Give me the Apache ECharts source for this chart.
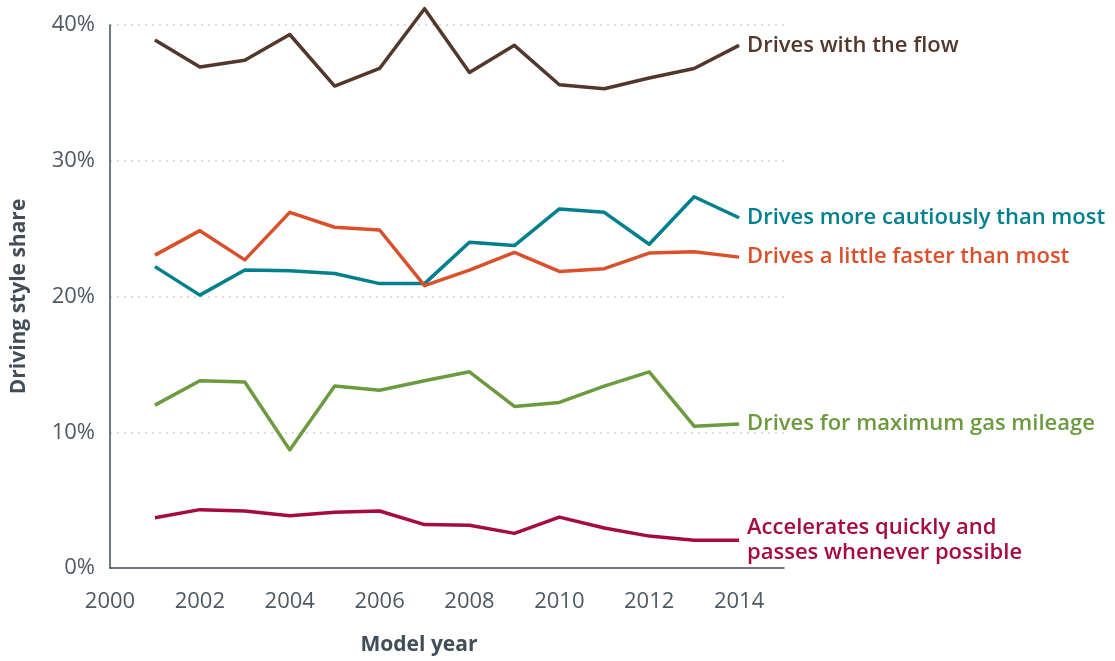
<!DOCTYPE html>
<html>
<head>
<meta charset="utf-8">
<script src="https://cdn.jsdelivr.net/npm/echarts@6/dist/echarts.min.js"></script>
<style>
  html, body { margin: 0; padding: 0; background: #fff; }
  #main { width: 1115px; height: 661px; }
</style>
</head>
<body>
<div id="main"></div>
<script>
// model years
var years = [2001, 2002, 2003, 2004, 2005, 2006, 2007, 2008, 2009, 2010, 2011, 2012, 2013, 2014];

// driving style shares (%)
var withFlow   = [38.9, 36.9, 37.4, 39.3, 35.5, 36.8, 41.2, 36.5, 38.5, 35.6, 35.3, 36.1, 36.8, 38.5];
var cautious   = [22.2, 20.1, 21.95, 21.9, 21.7, 20.95, 20.95, 24.0, 23.75, 26.45, 26.2, 23.85, 27.35, 25.8];
var faster     = [23.05, 24.85, 22.7, 26.2, 25.1, 24.9, 20.8, 21.95, 23.25, 21.85, 22.05, 23.2, 23.3, 22.9];
var mileage    = [12.0, 13.8, 13.7, 8.7, 13.4, 13.1, 13.8, 14.45, 11.9, 12.2, 13.4, 14.45, 10.45, 10.6];
var accelerate = [3.7, 4.3, 4.2, 3.85, 4.1, 4.2, 3.2, 3.15, 2.55, 3.75, 2.95, 2.35, 2.05, 2.05];

var seriesNames = [
    'Drives with the flow',
    'Drives more cautiously than most',
    'Drives a little faster than most',
    'Drives for maximum gas mileage',
    'Accelerates quickly and\npasses whenever possible'
];
var seriesData = [withFlow, cautious, faster, mileage, accelerate];
var seriesColors = ['#54372b', '#00808f', '#d9502b', '#6b9a3f', '#a50b3e'];

var xTicks = { min: 2000, max: 2015, interval: 2 };
var yTicks = { min: 0, max: 40, interval: 10 };

var fontName = '"Open Sans", "DejaVu Sans", sans-serif';
var axisGray = '#414d59';
var labelGray = '#4d5964';

function pairs(arr) {
    var out = [];
    for (var i = 0; i < years.length; i++) {
        out.push([years[i], arr[i]]);
    }
    return out;
}

var series = [];
for (var i = 0; i < seriesData.length; i++) {
    series.push({
        name: seriesNames[i],
        type: 'line',
        data: pairs(seriesData[i]),
        symbol: 'none',
        clip: false,
        lineStyle: { color: seriesColors[i], width: 3.5, join: 'round' },
        itemStyle: { color: seriesColors[i] },
        endLabel: {
            show: true,
            distance: 8,
            formatter: function(p) { return p.seriesName; },
            color: seriesColors[i],
            fontFamily: fontName,
            fontSize: 22,
            fontWeight: 600,
            lineHeight: 25
        }
    });
}

var myChart = echarts.init(document.getElementById('main'));
var option = {
    animation: false,
    backgroundColor: '#ffffff',
    grid: {
        left: 110,
        right: 331,
        top: 25,
        bottom: 85
    },
    xAxis: {
        type: 'value',
        min: xTicks.min,
        max: xTicks.max,
        interval: xTicks.interval,
        name: 'Model year',
        nameLocation: 'middle',
        nameGap: 67,
        nameTextStyle: {
            color: axisGray,
            fontFamily: fontName,
            fontSize: 21,
            fontWeight: 'bold',
            padding: [0, 56, 0, 0]
        },
        axisLine: { show: true, lineStyle: { color: axisGray, width: 1.5 } },
        axisTick: { show: false },
        splitLine: { show: false },
        axisLabel: {
            showMaxLabel: false,
            margin: 23,
            color: labelGray,
            fontFamily: fontName,
            fontSize: 22,
            formatter: function(v) { return String(v); }
        }
    },
    yAxis: {
        type: 'value',
        min: yTicks.min,
        max: yTicks.max,
        interval: yTicks.interval,
        name: 'Driving style share',
        nameLocation: 'middle',
        nameGap: 80,
        nameTextStyle: {
            color: axisGray,
            fontFamily: fontName,
            fontSize: 21,
            fontWeight: 'bold'
        },
        axisLine: { show: true, lineStyle: { color: axisGray, width: 1.5 } },
        axisTick: { show: false },
        splitLine: {
            show: true,
            lineStyle: { color: '#cfcfcf', type: [2, 5], width: 1.5 }
        },
        axisLabel: {
            margin: 15,
            color: labelGray,
            fontFamily: fontName,
            fontSize: 22,
            formatter: '{value}%'
        }
    },
    series: series
};

myChart.setOption(option);
</script>
</body>
</html>
